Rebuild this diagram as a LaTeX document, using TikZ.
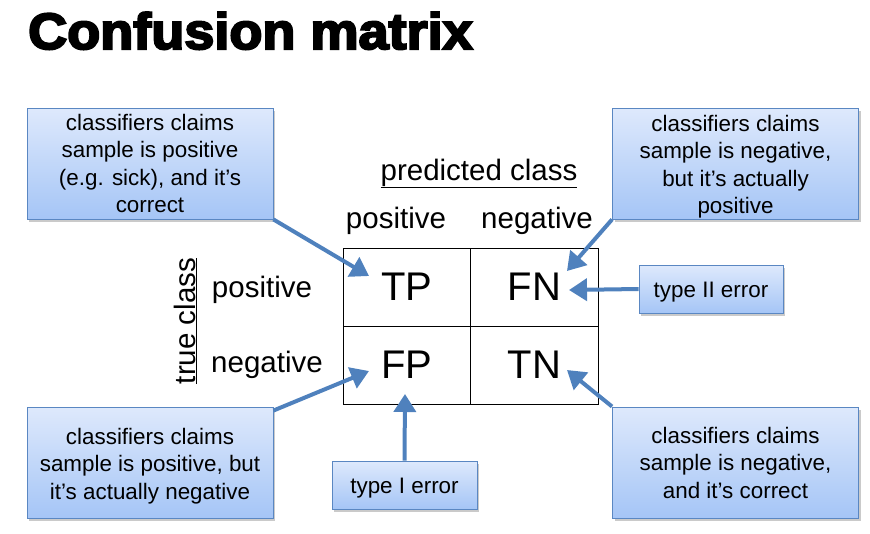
\documentclass[tikz,border=0pt]{standalone}
\usepackage{fontspec}
\setmainfont{Liberation Sans}
\newfontfamily\titlefont[FakeBold=4]{Liberation Sans Bold}
\usetikzlibrary{arrows.meta,shadows,positioning}
\definecolor{arrowblue}{HTML}{4F81BD}
\definecolor{boxtop}{HTML}{DEE9FC}
\definecolor{boxbot}{HTML}{A5C5F6}
\definecolor{boxedge}{HTML}{5A87C2}
\tikzset{
  callout/.style={rectangle, draw=boxedge, line width=0.9pt, top color=boxtop, bottom color=boxbot,
    drop shadow={shadow xshift=2pt, shadow yshift=-2.5pt, fill=black!35, opacity=0.6},
    inner sep=0pt, align=center, font=\fontsize{22.4}{27.5}\selectfont},
  calltext/.style={inner sep=0pt, align=center, font=\fontsize{22.4}{27.5}\selectfont},
  lowered/.style={text height=22pt},
  cell/.style={rectangle, minimum width=127.5pt, minimum height=78pt, inner sep=0pt, font=\fontsize{40}{40}\selectfont},
  lbl/.style={inner sep=0pt, font=\fontsize{29.5}{32}\selectfont},
  pointer/.style={draw=arrowblue, line width=4pt, -{Triangle[length=18pt,width=22pt]}, shorten <=0pt}
}
\begin{document}
\begin{tikzpicture}[x=1pt,y=-1pt]
\useasboundingbox (0,0) rectangle (870,533);
% title
\node[anchor=base west, inner sep=0pt] (title) at (28,49) {\scalebox{1.06}[1]{\fontsize{51}{51}\titlefont Confusion matrix}};
% matrix
\draw[line width=1pt] (343,248) rectangle (598,404);
\draw[line width=1pt] (470.5,248) -- (470.5,404);
\draw[line width=1pt] (343,326) -- (598,326);
\node[cell] (TP) at (407,287) {TP};
\node[cell] (FN) at (534.5,287) {FN};
\node[cell] (FP) at (407,365) {FP};
\node[cell] (TN) at (534.5,365) {TN};
% labels
\node[lbl, anchor=base] (pc) at (479,180) {\underline{predicted class}};
\node[lbl, anchor=base] (hpos) at (396,228) {positive};
\node[lbl, anchor=base] (hneg) at (537,228) {negative};
\node[lbl, anchor=base] (rpos) at (262,297) {positive};
\node[lbl, anchor=base] (rneg) at (267,372) {negative};
\node[lbl, anchor=base, rotate=90] (tc) at (195,321) {\underline{true class}};
% callouts
\node[callout, minimum width=246pt, minimum height=111pt] (tl) at (150,163.5)
  {classifiers claims\\sample is positive\\(e.g. sick), and it’s\\correct};
\node[callout, minimum width=246pt, minimum height=111pt] (tr) at (735.5,163.5) {};
\node[calltext] (trtext) at ([yshift=-3pt]tr.center)
  {classifiers claims\\sample is negative,\\but it’s actually\\positive};
\node[callout, minimum width=246pt, minimum height=111pt] (bl) at (150,462.5) {};
\node[calltext] (bltext) at ([yshift=-3.5pt]bl.center)
  {classifiers claims\\sample is positive, but\\it’s actually negative};
\node[callout, minimum width=246pt, minimum height=111pt] (br) at (735.5,462.5)
  {classifiers claims\\sample is negative,\\and it’s correct};
\node[callout, lowered, minimum width=144pt, minimum height=48pt] (t2) at (711,289) {type II error};
\node[callout, lowered, minimum width=145pt, minimum height=48pt] (t1) at (404.5,485) {type I error};
% arrow tips
\coordinate (tpTip) at (369,276);
\coordinate (fnTip) at (567,271);
\coordinate (fnTip2) at (569,290);
\coordinate (fpTip) at (369,371);
\coordinate (fpTip2) at (405,394);
\coordinate (tnTip) at (567,370);
% arrows
\draw[pointer] (tl.south east) -- (tpTip);
\draw[pointer] (tr.south west) -- (fnTip);
\draw[pointer] (t2.west) -- (fnTip2);
\draw[pointer] ([yshift=-4pt]bl.north east) -- (fpTip);
\draw[pointer] (t1.north) -- (fpTip2);
\draw[pointer] (br.north west) -- (tnTip);
\end{tikzpicture}
\end{document}
